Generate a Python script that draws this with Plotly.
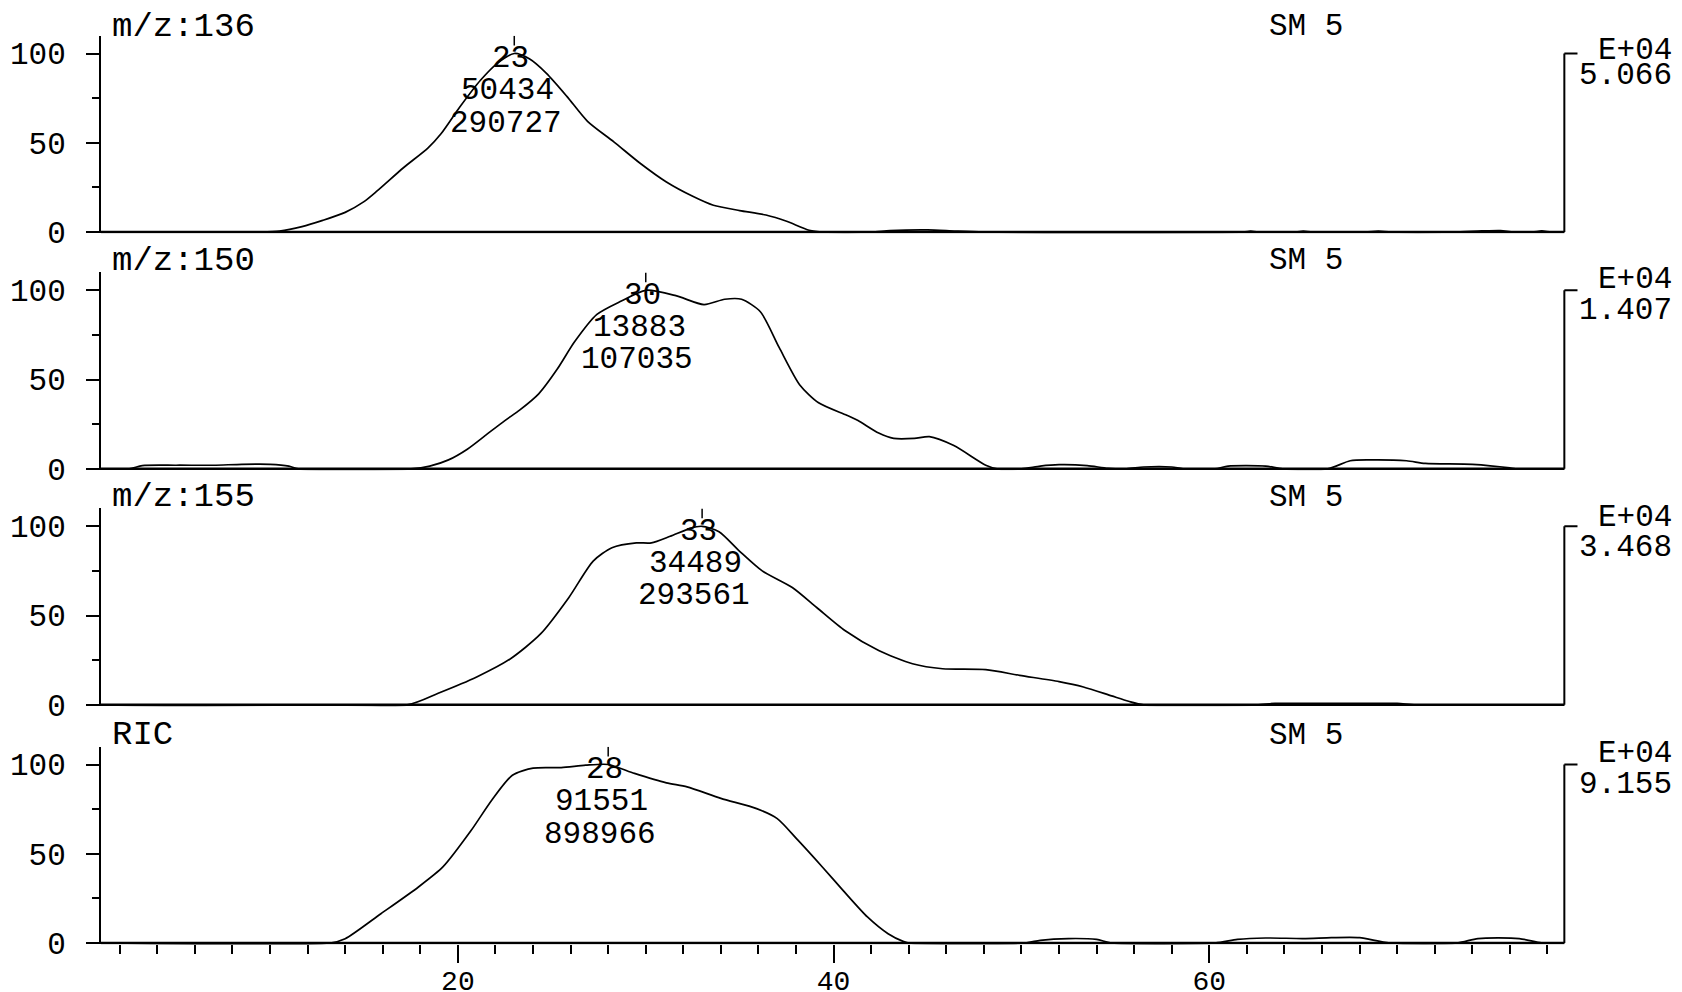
import plotly.graph_objects as go

# ---------------- data ----------------
panel_titles = ["m/z:136", "m/z:150", "m/z:155", "RIC"]
smoothing_label = "SM 5"
scale_exponent = "E+04"
scale_values = ["5.066", "1.407", "3.468", "9.155"]
apex_scan = [23, 30, 33, 28]
apex_height = ["50434", "13883", "34489", "91551"]
apex_area = ["290727", "107035", "293561", "898966"]

mz136_x = [1, 9.5, 10.5, 11.7, 12.8, 14, 15, 15.7, 17.1, 18.4, 19.1, 20.1, 21.2, 22.1, 23,
           23.8, 24.7, 25.8, 26.9, 28.3, 29.7, 31.1, 32.5, 33.6, 35, 36.4, 37.5, 38.7, 39.5,
           42, 43, 45, 46.5, 48, 61.8, 62.2, 62.6, 64.6, 65, 65.5, 68.3, 69, 69.7, 73, 74.5,
           75.5, 76.2, 77.2, 77.7, 78.2, 78.9]
mz136_y = [0, 0, 0.5, 3, 6.5, 11, 17, 23, 36, 47, 55, 70, 85, 94.5, 100,
           97, 89, 76, 62, 50.5, 38.5, 28, 20, 15, 12, 9.5, 6, 1, 0,
           0, 0.8, 1.2, 0.5, 0, 0, 0.5, 0, 0, 0.5, 0, 0, 0.5, 0, 0, 0.6,
           0.8, 0, 0, 0.6, 0, 0]

mz150_x = [1, 2.5, 3.2, 5, 7, 8.5, 10, 11, 11.5, 17.5, 18.5, 19.5, 20.5, 21.5, 22.5, 23.3,
           24.3, 25.3, 26.2, 27.4, 28.7, 30, 31.6, 33.1, 34.2, 35.1, 36.1, 37.1, 38.2, 39.2,
           40.7, 41.3, 42.4, 43.2, 44.3, 45.1, 46.4, 48.1, 48.7, 50, 51, 52, 53.5, 54.6,
           55.6, 56.5, 58, 58.6, 60.3, 61, 63, 63.9, 66.3, 67.5, 68.5, 70.5, 71.5, 74, 76,
           76.3, 78.9]
mz150_y = [0, 0, 1.8, 2, 2, 2.5, 2.5, 1.5, 0, 0, 1.5, 5, 11, 19, 27, 33,
           42, 56, 71, 86.5, 94, 100, 97, 92, 95, 95, 88, 68, 47, 37,
           30, 27, 20, 17, 17, 18, 13, 2, 0, 0, 1.5, 2.3, 1.8, 0.3,
           0, 1, 1, 0, 0, 1.5, 1.5, 0, 0, 4.5, 5, 4.5, 3, 2.5, 0.5,
           0, 0]

mz155_x = [1, 17.3, 18.95, 21, 22.8, 24.4, 25.9, 27.2, 28.2, 29.5, 30.3, 31.3, 32.4, 33,
           33.9, 35, 36.2, 37.8, 39.1, 40.6, 42.4, 44.2, 45.8, 48.1, 49.9, 52, 53.3, 54.8,
           55.7, 56.5, 62.5, 63.5, 66, 68, 70, 71, 78.9]
mz155_y = [0, 0, 6.5, 15.6, 25.8, 39.7, 60, 80.5, 88, 90.7, 90.7, 94.4, 99, 100,
           97, 86, 75, 65.7, 54.5, 41.6, 30.4, 23, 20.2, 19.7, 16.5, 13, 10, 5,
           2, 0, 0, 0.8, 0.8, 0.8, 0.8, 0, 0]

ric_x = [1, 13.2, 14, 15.9, 17.9, 19.2, 20.7, 21.8, 22.9, 24, 25.5, 26.8, 28, 29.4, 31.1,
         32.2, 34, 35.9, 37, 38.1, 39.4, 40.5, 41.8, 42.9, 43.7, 44, 50.2, 51, 52.5, 54,
         54.8, 60.3, 61.5, 63, 65, 66.5, 68, 69.6, 73.2, 74.3, 76.5, 77.7, 78.9]
ric_y = [0, 0, 2.4, 16.4, 31.4, 42.6, 63, 80, 94, 98, 98.3, 99.6, 100, 95, 89.7,
         87.5, 81, 75.3, 69.7, 57.6, 42.6, 29.5, 14.6, 5.2, 0.9, 0, 0, 1.5, 2.5, 2,
         0, 0, 2, 2.8, 2.5, 3, 3, 0, 0, 2.5, 2.5, 0, 0]

series_x = [mz136_x, mz150_x, mz155_x, ric_x]
series_y = [mz136_y, mz150_y, mz155_y, ric_y]

x_range = [1, 80]
x_end = 78.9
x_tick_vals = [20, 40, 60]
x_minor_vals = [v for v in range(2, 80, 2) if v not in x_tick_vals]
y_tick_vals = [0, 50, 100]
y_tick_text = ["0", "50", "100"]
y_minor_vals = [25, 75]
y_range = [-0.8, 110]

# ---------------- layout constants ----------------
OFF = 8                      # default body margin of the page
W, H = 1682 - 2 * OFF, 992 - OFF
ML = 101 - OFF
PW = 1484
MR = W - ML - PW
baseline_px = [232 - OFF, 468.8 - OFF, 704.8 - OFF, 943 - OFF]
px_per_unit = 1.785
FONT = "Liberation Mono, Courier New, monospace"
FS = 31
title_py = [27 - OFF, 261 - OFF, 497 - OFF, 735 - OFF]
exp_dy = [-3, -11, -9, -11]
val_dy = [22.5, 20.5, 21.5, 19.5]


def paper_x(px):
    return (px - ML) / PW


def paper_y(py):
    return 1 - py / H


fig = go.Figure()
shapes = []
annotations = []
layout_axes = {}
tfont = dict(family=FONT, size=FS, color="black")

for i in range(4):
    n = "" if i == 0 else str(i + 1)
    xa, ya = "x" + n, "y" + n
    B = baseline_px[i]
    bottom_px = B - y_range[0] * px_per_unit
    top_px = B - y_range[1] * px_per_unit
    dom = [paper_y(bottom_px), paper_y(top_px)]

    fig.add_trace(go.Scatter(
        x=series_x[i], y=series_y[i], mode="lines", xaxis=xa, yaxis=ya,
        line=dict(color="black", width=1.7, shape="spline", smoothing=0.7),
        hoverinfo="skip", showlegend=False))

    xdict = dict(domain=[0, 1], anchor=ya, range=x_range, showgrid=False,
                 zeroline=False, showline=False, automargin=False)
    if i == 3:
        xdict.update(tickmode="array", tickvals=x_tick_vals,
                     ticktext=[str(v) for v in x_tick_vals],
                     ticks="outside", ticklen=18, tickwidth=2, tickcolor="black",
                     ticklabelstandoff=-7,
                     tickfont=dict(family=FONT, size=28, color="black"),
                     minor=dict(tickmode="array", tickvals=x_minor_vals,
                                ticks="outside", ticklen=9, tickwidth=2,
                                tickcolor="black", showgrid=False))
    else:
        xdict.update(showticklabels=False, ticks="")
    layout_axes["xaxis" + n] = xdict

    layout_axes["yaxis" + n] = dict(
        domain=dom, anchor=xa, range=y_range, showgrid=False, zeroline=False,
        showline=True, linecolor="black", linewidth=2,
        tickmode="array", tickvals=y_tick_vals, ticktext=y_tick_text,
        ticks="outside", ticklen=13, tickwidth=2, tickcolor="black",
        ticklabelstandoff=14, automargin=False, tickfont=tfont,
        minor=dict(tickmode="array", tickvals=y_minor_vals, ticks="outside",
                   ticklen=7, tickwidth=2, tickcolor="black", showgrid=False))

    # baseline
    shapes.append(dict(type="line", xref=xa, yref=ya, x0=x_range[0], x1=x_end,
                       y0=0, y1=0, line=dict(color="black", width=2.5)))
    # right intensity bar
    shapes.append(dict(type="line", xref=xa, yref=ya, x0=x_end, x1=x_end,
                       y0=0, y1=100, line=dict(color="black", width=2)))
    shapes.append(dict(type="line", xref=xa, yref=ya, x0=x_end, x1=x_end + 0.7,
                       y0=100, y1=100, line=dict(color="black", width=2)))
    # apex marker
    shapes.append(dict(type="line", xref=xa, yref=ya, x0=apex_scan[i], x1=apex_scan[i],
                       y0=104.5, y1=110, line=dict(color="black", width=1.5)))

    # apex texts
    for txt, yv, dx in [(str(apex_scan[i]), 97, -0.2), (apex_height[i], 79, -0.35),
                        (apex_area[i], 61, -0.45)]:
        annotations.append(dict(xref=xa, yref=ya, x=apex_scan[i] + dx, y=yv, text=txt,
                                showarrow=False, xanchor="center", yanchor="middle",
                                font=tfont))

    annotations.append(dict(xref="paper", yref="paper", x=paper_x(110 - OFF),
                            y=paper_y(title_py[i]), text=panel_titles[i], showarrow=False,
                            xanchor="left", yanchor="middle",
                            font=dict(family=FONT, size=34, color="black")))
    annotations.append(dict(xref="paper", yref="paper", x=paper_x(1267 - OFF),
                            y=paper_y(title_py[i]), text=smoothing_label, showarrow=False,
                            xanchor="left", yanchor="middle", font=tfont))
    top100 = B - 100 * px_per_unit
    annotations.append(dict(xref="paper", yref="paper", x=paper_x(W - 1),
                            y=paper_y(top100 + exp_dy[i]), text=scale_exponent,
                            showarrow=False, xanchor="right", yanchor="middle",
                            borderpad=0, font=tfont))
    annotations.append(dict(xref="paper", yref="paper", x=paper_x(W - 1),
                            y=paper_y(top100 + val_dy[i]), text=scale_values[i],
                            showarrow=False, xanchor="right", yanchor="middle",
                            borderpad=0, font=tfont))

fig.update_layout(
    width=W, height=H, margin=dict(l=ML, r=MR, t=0, b=0, autoexpand=False),
    paper_bgcolor="white", plot_bgcolor="white", showlegend=False,
    shapes=shapes, annotations=annotations, **layout_axes)

fig.write_html("out.html", config={"displayModeBar": False})
